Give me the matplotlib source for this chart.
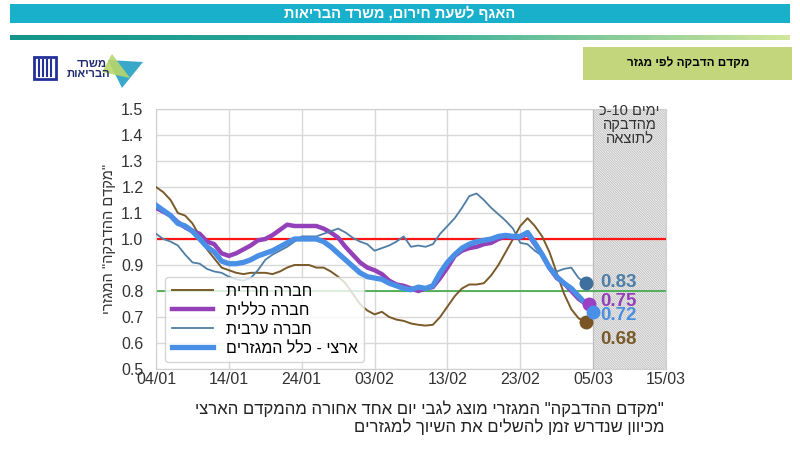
import numpy as np
import matplotlib
matplotlib.use("Agg")
import matplotlib.pyplot as plt
from matplotlib.patches import Rectangle, Polygon
from matplotlib.colors import LinearSegmentedColormap

plt.rcParams['font.family'] = ['Liberation Sans', 'DejaVu Sans']
plt.rcParams['hatch.color'] = '#c8c8c8'
plt.rcParams['hatch.linewidth'] = 0.6


def rtl(s):
    # matplotlib has no bidi support, so hebrew goes in visual order
    return s[::-1]


# x axis: days since 04/01
tick_days = [0, 10, 20, 30, 40, 50, 60, 70]
tick_labels = ['04/01', '14/01', '24/01', '03/02', '13/02', '23/02', '05/03', '15/03']
y_ticks = [0.5, 0.6, 0.7, 0.8, 0.9, 1.0, 1.1, 1.2, 1.3, 1.4, 1.5]

sector_days = list(range(60))
national_days = list(range(61))

haredi = [1.20, 1.18, 1.15, 1.10, 1.09, 1.06, 1.01, 0.96, 0.925, 0.89,
          0.88, 0.87, 0.865, 0.87, 0.87, 0.87, 0.865, 0.875, 0.89, 0.90,
          0.90, 0.90, 0.89, 0.89, 0.875, 0.855, 0.83, 0.79, 0.75, 0.725,
          0.71, 0.72, 0.70, 0.69, 0.685, 0.675, 0.67, 0.667, 0.67, 0.70,
          0.74, 0.78, 0.81, 0.825, 0.825, 0.83, 0.86, 0.90, 0.95, 1.00,
          1.05, 1.08, 1.05, 1.01, 0.95, 0.87, 0.79, 0.73, 0.695, 0.68]

general = [1.12, 1.105, 1.09, 1.065, 1.045, 1.03, 1.02, 0.99, 0.98, 0.945,
           0.935, 0.945, 0.96, 0.975, 0.995, 1.00, 1.015, 1.035, 1.055, 1.05,
           1.05, 1.05, 1.05, 1.04, 1.025, 1.005, 0.97, 0.94, 0.91, 0.89,
           0.88, 0.865, 0.84, 0.825, 0.82, 0.81, 0.80, 0.81, 0.815, 0.85,
           0.89, 0.935, 0.955, 0.965, 0.97, 0.98, 0.985, 1.00, 1.01, 1.005,
           1.005, 1.02, 0.98, 0.94, 0.89, 0.85, 0.83, 0.80, 0.77, 0.75]

arab = [1.02, 1.00, 0.99, 0.975, 0.94, 0.91, 0.905, 0.885, 0.875, 0.87,
        0.855, 0.845, 0.84, 0.85, 0.88, 0.92, 0.94, 0.955, 0.97, 0.99,
        1.01, 1.01, 1.01, 1.02, 1.03, 1.04, 1.025, 1.005, 0.99, 0.98,
        0.955, 0.965, 0.975, 0.99, 1.01, 0.97, 0.975, 0.97, 0.98, 1.02,
        1.05, 1.08, 1.12, 1.165, 1.175, 1.15, 1.12, 1.095, 1.07, 1.04,
        0.985, 0.98, 0.955, 0.935, 0.89, 0.875, 0.885, 0.89, 0.85, 0.83]

national = [1.13, 1.11, 1.09, 1.06, 1.05, 1.03, 1.00, 0.97, 0.95, 0.915,
            0.905, 0.905, 0.91, 0.92, 0.935, 0.945, 0.955, 0.97, 0.985, 1.00,
            1.00, 1.00, 1.00, 0.99, 0.97, 0.945, 0.92, 0.895, 0.87, 0.855,
            0.85, 0.845, 0.83, 0.82, 0.81, 0.805, 0.815, 0.81, 0.82, 0.87,
            0.91, 0.94, 0.965, 0.98, 0.99, 0.995, 1.00, 1.01, 1.014, 1.01,
            1.01, 1.025, 0.985, 0.94, 0.89, 0.855, 0.83, 0.81, 0.78, 0.75,
            0.72]

end_labels = ['0.83', '0.75', '0.72', '0.68']

W, H = 800, 451


def px(x, y):
    return (x / W, 1 - y / H)


fig = plt.figure(figsize=(8, 4.51), dpi=100)
fig.patch.set_facecolor('white')

# header bar
fig.patches.append(Rectangle(px(10, 23), 780 / W, 19 / H, transform=fig.transFigure,
                             facecolor='#19b0cc', edgecolor='none'))
fig.text(*px(400, 13), rtl('האגף לשעת חירום, משרד הבריאות'), color='white',
         fontsize=10.5, fontweight='bold', ha='center', va='center')

# gradient rule under header
gax = fig.add_axes([10 / W, 1 - 40 / H, 780 / W, 5 / H])
grad_cmap = LinearSegmentedColormap.from_list('g', ['#14958a', '#2eab9c', '#d2e79a'])
gax.imshow(np.linspace(0, 1, 256)[None, :], aspect='auto', cmap=grad_cmap)
gax.axis('off')

# title box
fig.patches.append(Rectangle(px(583, 80), 209 / W, 33 / H, transform=fig.transFigure,
                             facecolor='#c3d67b', edgecolor='none'))
fig.text(*px(688, 63), rtl('מקדם הדבקה לפי מגזר'), color='black',
         fontsize=8.5, fontweight='bold', ha='center', va='center')

# logo
fig.patches.append(Polygon([px(108, 60), px(143, 62), px(122, 88)], closed=True,
                           transform=fig.transFigure, facecolor='#3aa9c9', edgecolor='none'))
fig.patches.append(Polygon([px(112, 54), px(130, 78), px(102, 72)], closed=True,
                           transform=fig.transFigure, facecolor='#b9d66a', edgecolor='none', alpha=0.9))
fig.text(*px(92, 64), rtl('משרד'), color='#1f2a6e', fontsize=8, fontweight='bold',
         ha='center', va='center')
fig.text(*px(88, 74), rtl('הבריאות'), color='#1f2a6e', fontsize=8, fontweight='bold',
         ha='center', va='center')
fig.patches.append(Rectangle(px(34, 79), 22 / W, 22 / H, transform=fig.transFigure,
                             facecolor='none', edgecolor='#24309a', linewidth=2))
for lx in [39, 43, 47, 51]:
    fig.lines.append(plt.Line2D([lx / W, lx / W], [1 - 76 / H, 1 - 60 / H],
                                transform=fig.transFigure, color='#24309a', lw=1.5))

# main chart
ax = fig.add_axes([156 / W, 1 - 369 / H, 510 / W, 260 / H])
ax.set_xlim(0, 70)
ax.set_ylim(0.5, 1.5)
ax.set_xticks(tick_days)
ax.set_xticklabels(tick_labels)
ax.set_yticks(y_ticks)
ax.set_yticklabels(['%.1f' % v for v in y_ticks])
ax.tick_params(length=0, labelsize=11.5, colors='#333333')
ax.tick_params(axis='y', pad=9)
ax.tick_params(axis='x', pad=2)
ax.grid(True, color='#d9d9d9', lw=1)
ax.set_axisbelow(True)
for sp in ax.spines.values():
    sp.set_color('#d0d0d0')

ax.axvspan(60, 70, facecolor='#f3f3f3', edgecolor='#bdbdbd', hatch='\\' * 14, lw=0.8, zorder=1)
ax.text(65, 1.44, 'כ-10 ' + rtl('ימים') + '\n' + rtl('מהדבקה') + '\n' + rtl('לתוצאה'),
        ha='center', va='center', fontsize=10.5, color='#333333', linespacing=1.0, zorder=5)

ax.axhline(1.0, color='#ff1414', lw=1.6, zorder=2)
ax.axhline(0.8, color='#3aa845', lw=1.2, zorder=2)

ax.plot(sector_days, haredi, color='#7b5a2a', lw=1.4, label=rtl('חברה חרדית'), zorder=3)
ax.plot(sector_days, general, color='#9440b8', lw=3.2, label=rtl('חברה כללית'), zorder=3)
ax.plot(sector_days, arab, color='#4f7ea5', lw=1.3, label=rtl('חברה ערבית'), zorder=3)
ax.plot(national_days, national, color='#4a8fe6', lw=3.8, label=rtl('ארצי - כלל המגזרים'), zorder=4)

ax.plot(sector_days[-1], arab[-1], 'o', color='#3f6f9c', ms=9, zorder=5)
ax.plot(sector_days[-1], haredi[-1], 'o', color='#7a5523', ms=9, zorder=5)
ax.plot(sector_days[-1] + 0.4, general[-1], 'o', color='#9b3fc4', ms=9, zorder=5)
ax.plot(national_days[-1], national[-1], 'o', color='#4a90e8', ms=9, zorder=6)

lab_y = [0.833, 0.758, 0.705, 0.615]
lab_c = ['#4f7fa8', '#9440b8', '#4a8fe0', '#7a5a2a']
for t, yy, cc in zip(end_labels, lab_y, lab_c):
    ax.text(61.0, yy, t, color=cc, fontsize=13.5, fontweight='bold', va='center', ha='left', zorder=7)

leg = ax.legend(loc='lower left', bbox_to_anchor=(0.012, 0.015), fontsize=11.5,
                handlelength=2.6, framealpha=0.8, edgecolor='#cccccc', borderpad=0.4,
                labelspacing=0.25, borderaxespad=0.2)
leg.set_zorder(8)

ax.set_ylabel(rtl('"מקדם ההדבקה" המגזרי'), fontsize=10.5, color='#333333', labelpad=4)

fig.text(*px(664, 409), rtl('"מקדם ההדבקה" המגזרי מוצג לגבי יום אחד אחורה מהמקדם הארצי'),
         fontsize=12, color='#222222', ha='right', va='center')
fig.text(*px(664, 427), rtl('מכיוון שנדרש זמן להשלים את השיוך למגזרים'),
         fontsize=12, color='#222222', ha='right', va='center')

fig.savefig('out.png', dpi=100, facecolor=fig.get_facecolor())
